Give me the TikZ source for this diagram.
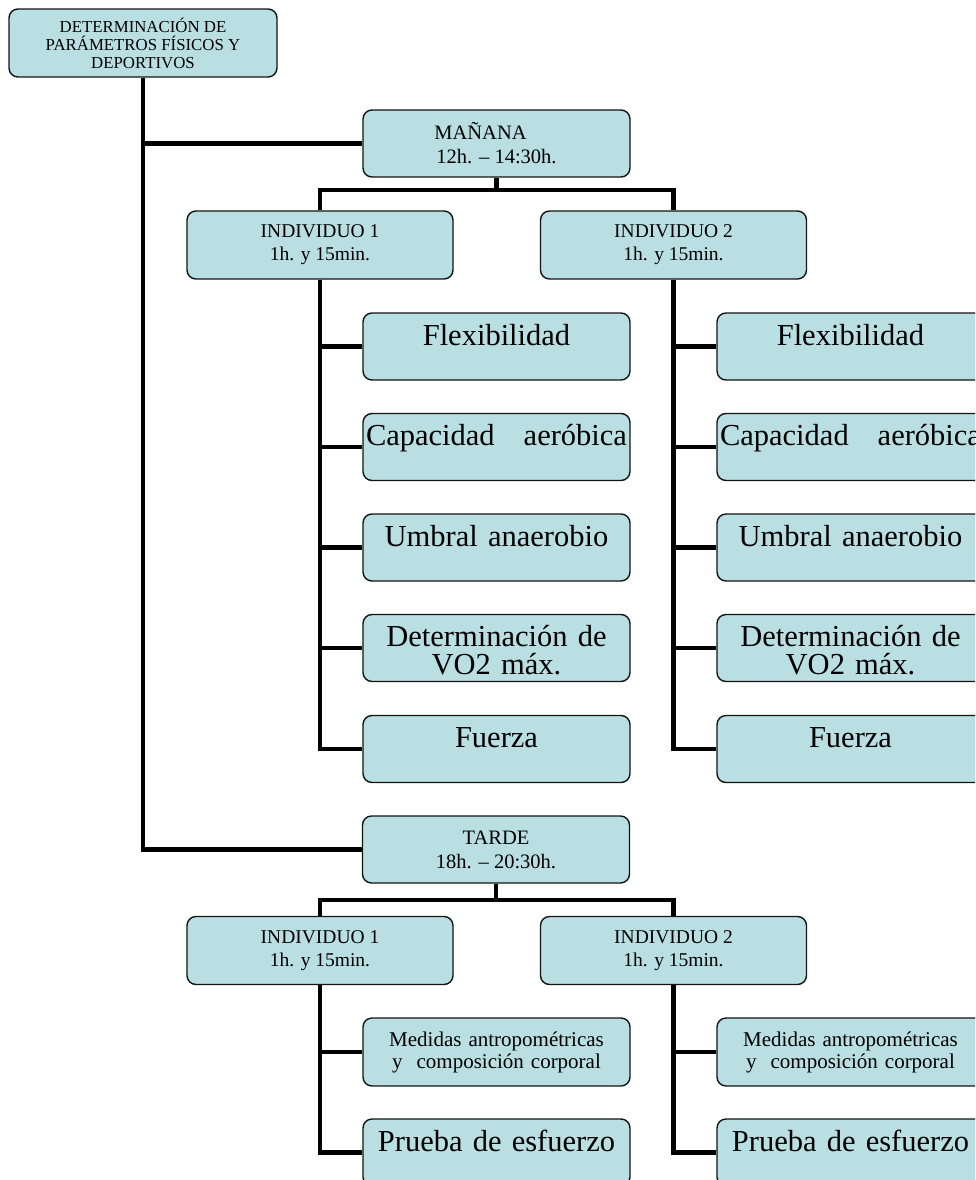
\documentclass[tikz,border=0pt]{standalone}
\usepackage{fontspec}
\setmainfont{Liberation Serif}
\usepackage{tikz}
\usetikzlibrary{positioning}
\definecolor{planteal}{RGB}{185, 223, 226}
\definecolor{planline}{RGB}{20, 20, 20}
\tikzset{
  planbox/.style = {
    rectangle,
    rounded corners=9pt,
    draw=planline,
    fill=planteal,
    text=black,
    align=center,
    inner sep=0pt,
    minimum width=267pt,
    minimum height=67pt,
    line width=1.4pt
  },
  headbox/.style = {
    planbox,
    minimum width=268pt,
    minimum height=68pt,
    font=\fontsize{16.8}{18}\selectfont
  },
  sessionbox/.style = {
    planbox,
    font=\fontsize{20.5}{24}\selectfont
  },
  subjectbox/.style = {
    planbox,
    minimum width=266pt,
    minimum height=68pt,
    font=\fontsize{19.5}{23}\selectfont
  },
  testbox/.style = {
    planbox,
    text width=261pt,
    text height=22pt,
    text depth=25pt,
    font=\fontsize{30.5}{28}\selectfont
  },
  smalltestbox/.style = {
    planbox,
    text width=261pt,
    minimum height=68pt,
    font=\fontsize{21}{22}\selectfont
  },
  planlink/.style = {
    line width=4.8pt,
    draw=black
  }
}

\begin{document}
\begin{tikzpicture}[x=1pt, y=-1pt]
  \useasboundingbox (0, 0) rectangle (975, 1180);
  \clip (0, 0) rectangle (975, 1180);

  % Root
  \node[headbox] (root) at (143, 43) {DETERMINACIÓN DE\\PARÁMETROS FÍSICOS Y\\DEPORTIVOS};

  % Morning session
  \node[sessionbox] (manana) at (496.5, 143.5) {MAÑANA\hspace*{32pt}\\12h. – 14:30h.};
  \node[subjectbox] (mind1) at (320, 245) {INDIVIDUO 1\\1h. y 15min.};
  \node[subjectbox] (mind2) at (673.5, 245) {INDIVIDUO 2\\1h. y 15min.};

  % Morning tests, subject 1
  \node[testbox] (mflex1) at (496.5, 346.5) {Flexibilidad};
  \node[testbox] (maero1) at (496.5, 447) {Capacidad\hfill aeróbica};
  \node[testbox] (mumbral1) at (496.5, 547.5) {Umbral anaerobio};
  \node[testbox] (mvo1) at (496.5, 648) {Determinación de\\VO2 máx.};
  \node[testbox] (mfuerza1) at (496.5, 749) {Fuerza};

  % Morning tests, subject 2
  \node[testbox] (mflex2) at (850.5, 346.5) {Flexibilidad};
  \node[testbox] (maero2) at (850.5, 447) {Capacidad\hfill aeróbica};
  \node[testbox] (mumbral2) at (850.5, 547.5) {Umbral anaerobio};
  \node[testbox] (mvo2) at (850.5, 648) {Determinación de\\VO2 máx.};
  \node[testbox] (mfuerza2) at (850.5, 749) {Fuerza};

  % Afternoon session
  \node[sessionbox] (tarde) at (496, 849.5) {TARDE\\18h. – 20:30h.};
  \node[subjectbox] (tind1) at (320, 950.5) {INDIVIDUO 1\\1h. y 15min.};
  \node[subjectbox] (tind2) at (673.5, 950.5) {INDIVIDUO 2\\1h. y 15min.};

  % Afternoon tests
  \node[smalltestbox] (tmedidas1) at (496.5, 1052) {Medidas antropométricas\\y\ \ composición corporal};
  \node[testbox] (tprueba1) at (496.5, 1152.5) {Prueba de esfuerzo};
  \node[smalltestbox] (tmedidas2) at (850.5, 1052) {Medidas antropométricas\\y\ \ composición corporal};
  \node[testbox] (tprueba2) at (850.5, 1152.5) {Prueba de esfuerzo};

  % Bus points
  \coordinate (mbus) at (496.5, 190);
  \coordinate (tbus) at (496, 900);

  % Root links
  \draw[planlink] (root.south) |- (tarde.west);
  \draw[planlink] (root.south |- manana.west) -- (manana.west);

  % Session links
  \draw[planlink] (manana.south) -- (mbus);
  \draw[planlink] (mind1.north) |- (mbus) -| (mind2.north);
  \draw[planlink] (tarde.south) -- (tbus);
  \draw[planlink] (tind1.north) |- (tbus) -| (tind2.north);

  % Morning test links
  \draw[planlink] (mind1.south) |- (mfuerza1.west);
  \draw[planlink] (mind1.south |- mflex1.west) -- (mflex1.west);
  \draw[planlink] (mind1.south |- maero1.west) -- (maero1.west);
  \draw[planlink] (mind1.south |- mumbral1.west) -- (mumbral1.west);
  \draw[planlink] (mind1.south |- mvo1.west) -- (mvo1.west);

  \draw[planlink] (mind2.south) |- (mfuerza2.west);
  \draw[planlink] (mind2.south |- mflex2.west) -- (mflex2.west);
  \draw[planlink] (mind2.south |- maero2.west) -- (maero2.west);
  \draw[planlink] (mind2.south |- mumbral2.west) -- (mumbral2.west);
  \draw[planlink] (mind2.south |- mvo2.west) -- (mvo2.west);

  % Afternoon test links
  \draw[planlink] (tind1.south) |- (tprueba1.west);
  \draw[planlink] (tind1.south |- tmedidas1.west) -- (tmedidas1.west);
  \draw[planlink] (tind2.south) |- (tprueba2.west);
  \draw[planlink] (tind2.south |- tmedidas2.west) -- (tmedidas2.west);
\end{tikzpicture}
\end{document}
